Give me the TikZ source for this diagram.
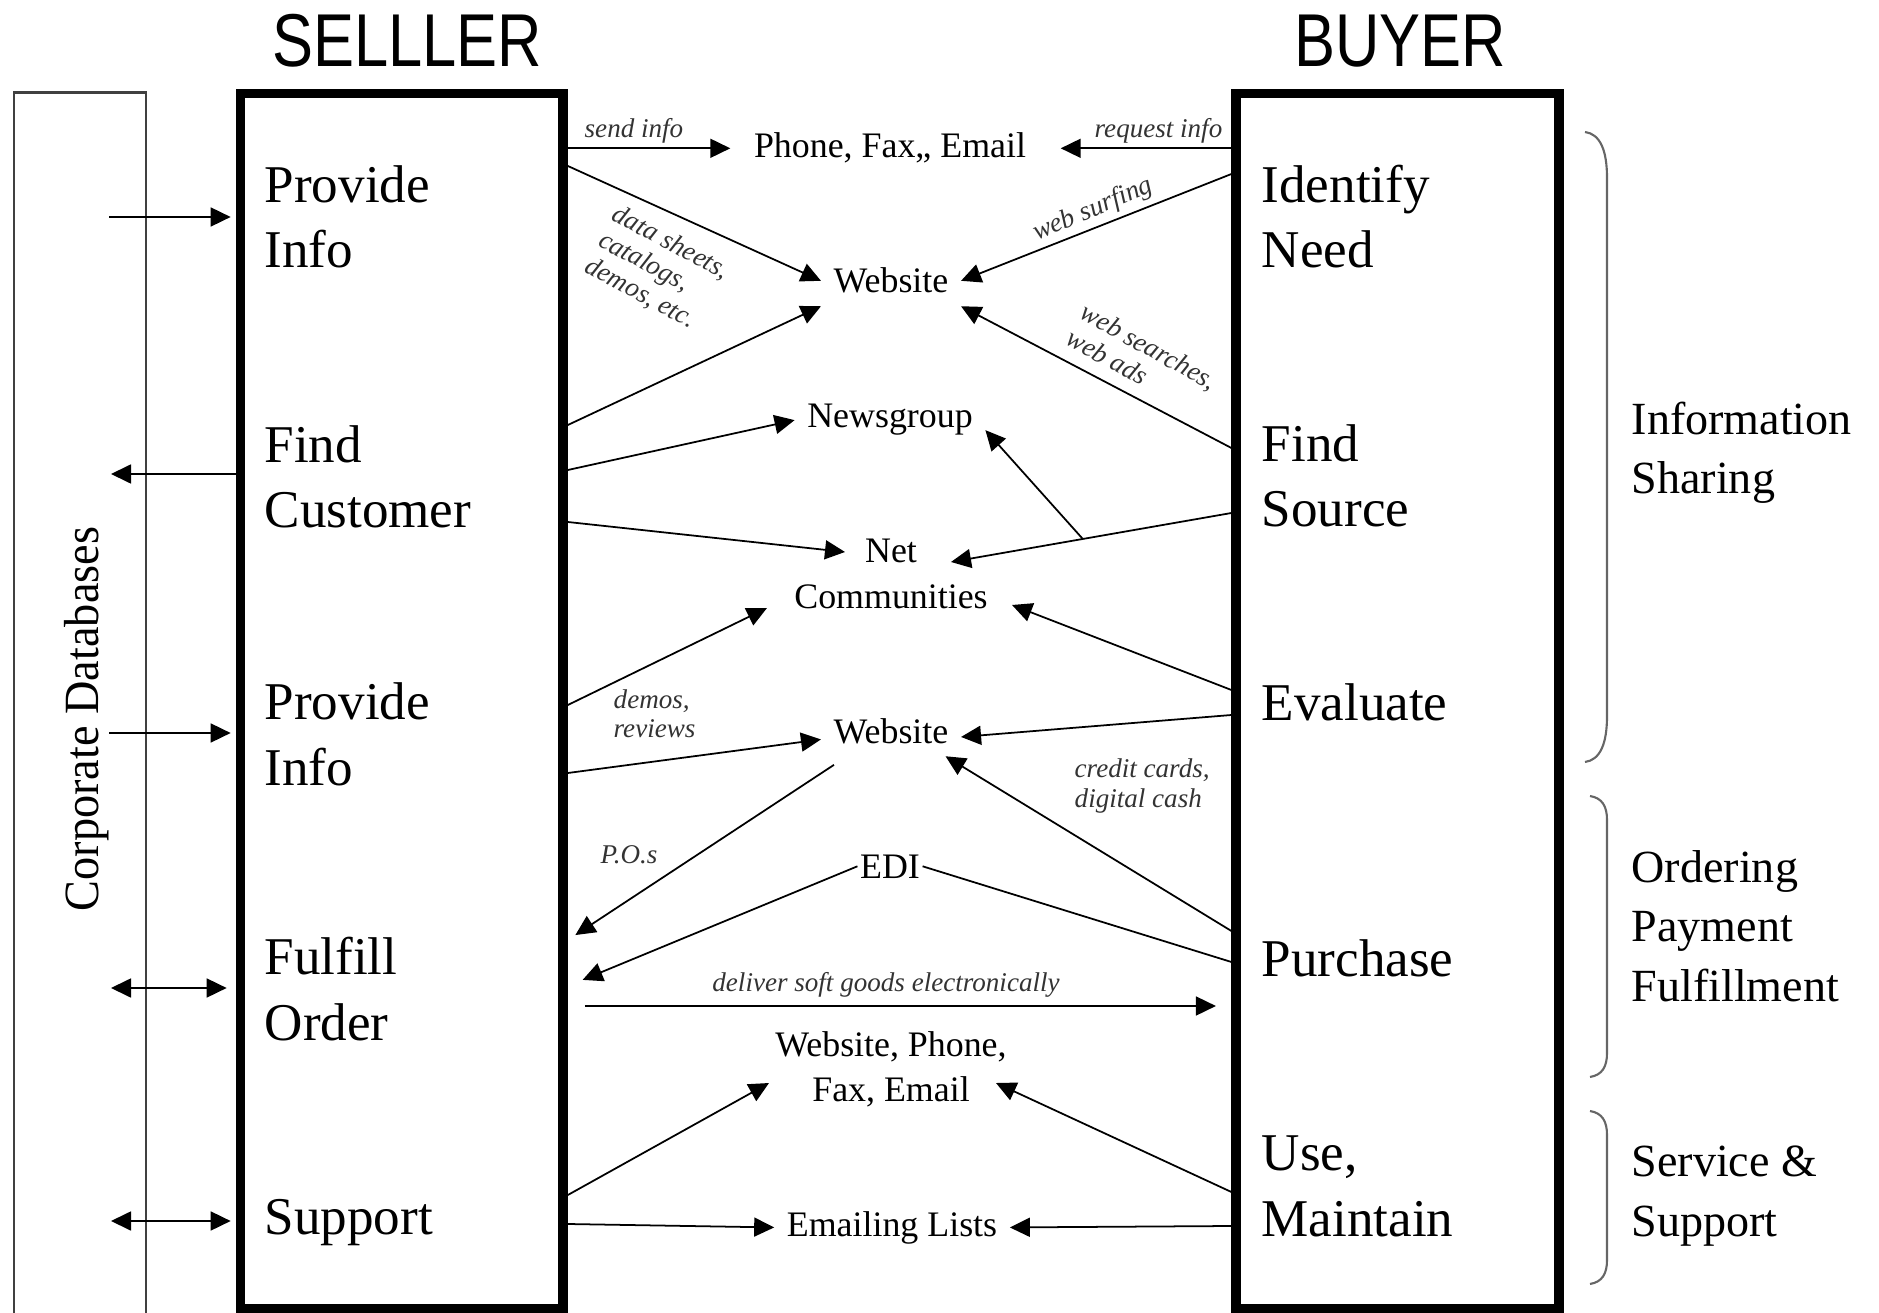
\documentclass[tikz,border=0pt]{standalone}
\usepackage{fontspec}
\setmainfont{Liberation Serif}
\newfontfamily\headfont{Liberation Sans}
\usetikzlibrary{arrows.meta}

\begin{document}
\begin{tikzpicture}[x=0.01cm,y=-0.01cm,
    link/.style={line width=0.5pt},
    flow/.style={link,-{Triangle[length=2mm,width=1.9mm]}},
    both/.style={link,{Triangle[length=2mm,width=1.9mm]}-{Triangle[length=2mm,width=1.9mm]}},
    lane/.style={draw,line width=2.7pt,minimum width=3.225cm,minimum height=12.145cm,inner sep=0pt},
    stage/.style={font=\fontsize{15.1}{18.5}\selectfont,align=left,inner sep=0pt,anchor=base west},
    media/.style={font=\fontsize{10.2}{12.9}\selectfont,align=center,inner sep=0.12cm},
    note/.style={font=\fontsize{7.7}{8.4}\selectfont\itshape,text=black!80,align=left,inner sep=0pt},
    phase/.style={font=\fontsize{13.1}{16.8}\selectfont,align=left,inner sep=0pt,anchor=base west},
    title/.style={font=\headfont\fontsize{21.3}{24}\selectfont,inner sep=0pt,anchor=base},
    brace/.style={draw=black!60,line width=0.6pt}]
    \useasboundingbox (0,0) rectangle (1879,1313);
    % the two lanes and the database column
    \node[lane] (seller) at (401.75,701.25) {};
    \node[lane] (buyer) at (1397.5,701) {};
    \node[draw=black!75,line width=0.7pt,minimum width=1.32cm,minimum height=12.3cm,inner sep=0pt] (db) at (80,708) {};
    \node[rotate=90,font=\fontsize{14}{16}\selectfont] (dbname) at (87,719) {\scalebox{0.94}[1]{Corporate Databases}};
    \node[title] (sellertitle) at (407,67) {\scalebox{0.82}[1]{SELLLER}};
    \node[title] (buyertitle) at (1400,67) {\scalebox{0.82}[1]{BUYER}};
    % seller steps (base = last line)
    \node[stage] (sPI1) at (264,268) {Provide\\Info};
    \node[stage] (sFC) at (264,528) {Find\\Customer};
    \node[stage] (sPI2) at (264,785) {Provide\\Info};
    \node[stage] (sFO) at (264,1040) {Fulfill\\Order};
    \node[stage] (sSU) at (264,1234) {Support};
    % buyer steps
    \node[stage] (bIN) at (1261,268) {Identify\\Need};
    \node[stage] (bFS) at (1261,527) {Find\\Source};
    \node[stage] (bEV) at (1261,720) {Evaluate};
    \node[stage] (bPU) at (1261,976) {Purchase};
    \node[stage] (bUM) at (1261,1236) {Use,\\Maintain};
    % phases
    \node[phase] (info) at (1631,494) {Information\\Sharing};
    \node[phase] (order) at (1631,1001) {Ordering\\Payment\\Fulfillment};
    \node[phase] (serv) at (1631,1236) {Service \&\\Support};
    \draw[brace] (1585,132) .. controls (1600,134) and (1607,150) .. (1607,178) -- (1607,716) .. controls (1607,744) and (1600,760) .. (1585,762);
    \draw[brace] (1590,796) .. controls (1602,798) and (1607,806) .. (1607,820) -- (1607,1053) .. controls (1607,1067) and (1602,1075) .. (1590,1077);
    \draw[brace] (1590,1111) .. controls (1602,1113) and (1607,1121) .. (1607,1135) -- (1607,1260) .. controls (1607,1274) and (1602,1282) .. (1590,1284);
    % media in the middle
    \node[media,anchor=base] (pfe) at (890,158) {Phone, Fax,, Email};
    \node[media,anchor=base] (web1) at (891,293) {Website};
    \node[media,anchor=base] (news) at (890,428) {Newsgroup};
    \node[media] (netc) at (891,574) {Net\\Communities};
    \node[media,anchor=base] (web2) at (891,743) {Website};
    \node[media,anchor=base,inner sep=0.02cm] (edi) at (890,878) {EDI};
    \node[media] (wpfe) at (891,1069) {Website, Phone,\\Fax, Email};
    \node[media,anchor=base] (mail) at (892,1236) {Emailing Lists};
    % small labels
    \node[note,anchor=base west] (sendinfo) at (584,138) {send info};
    \node[note,anchor=base east] (reqinfo) at (1223,138) {request info};
    \node[note,rotate=-28] (sheets) at (657,269) {data sheets,\\catalogs,\\demos, etc.};
    \node[note,rotate=23] (surf) at (1093,210) {web surfing};
    \node[note,rotate=-29] (search) at (1142,359) {web searches,\\web ads};
    \node[note,anchor=base west] (demos) at (613,738) {demos,\\reviews};
    \node[note,anchor=base west] (cash) at (1074,807) {credit cards,\\digital cash};
    \node[note,anchor=base west] (pos) at (600,863) {P.O.s};
    \node[note,anchor=base] (soft) at (886,991) {deliver soft goods electronically};
    % database links
    \coordinate (dbin1) at (109,217);
    \coordinate (dbout) at (111,474);
    \coordinate (dbin2) at (109,733);
    \coordinate (dbful) at (111,988);
    \coordinate (dbsup) at (111,1221);
    \draw[flow,shorten >=0.05cm] (dbin1) -- (seller.west |- dbin1);
    \draw[flow] (seller.west |- dbout) -- (dbout);
    \draw[flow,shorten >=0.05cm] (dbin2) -- (seller.west |- dbin2);
    \draw[both,shorten >=0.09cm] (dbful) -- (seller.west |- dbful);
    \draw[both,shorten >=0.05cm] (dbsup) -- (seller.west |- dbsup);
    % information sharing
    \draw[flow,shorten >=0.11cm] (seller.east |- pfe) -- (pfe.west);
    \draw[flow,shorten >=0.22cm] (buyer.west |- pfe) -- (pfe.east);
    \draw[flow] (seller.east |- 0,166) -- (web1.west);
    \draw[flow] (buyer.west |- 0,174) -- (web1.east);
    \draw[flow] (seller.east |- 0,425) -- (web1.south west);
    \draw[flow] (buyer.west |- 0,448) -- (web1.south east);
    \draw[flow] (seller.east |- 0,470) -- (news.west);
    \draw[flow] (seller.east |- 0,522) -- ([shift={(-46,-22)}]netc.center);
    \draw[flow] (buyer.west |- 0,513) -- ([shift={(60,-12)}]netc.center) coordinate[pos=0.53] (fork);
    \draw[flow] (fork) -- (news.-6);
    \draw[flow] (seller.east |- 0,705) -- ([shift={(-124,34)}]netc.center);
    \draw[flow] (buyer.west |- 0,690) -- ([shift={(121,31)}]netc.center);
    \draw[flow] (seller.east |- 0,773) -- (web2.187);
    \draw[flow] (buyer.west |- 0,715) -- (web2.-5);
    % ordering, payment, fulfillment
    \draw[flow] (buyer.west |- 0,931) -- (web2.-25);
    \draw[flow,shorten >=0.09cm] ([shift={(-57,34)}]web2.center) -- (seller.east |- 0,940);
    \draw[link] (buyer.west |- 0,962) -- (edi.east);
    \draw[flow,shorten >=0.16cm] (edi.west) -- (seller.east |- 0,986);
    \draw[flow,shorten <=0.17cm,shorten >=0.155cm] (seller.east |- 0,1006) -- (buyer.west |- 0,1006);
    % service and support
    \draw[flow] (seller.east |- 0,1195) -- ([shift={(-122,14)}]wpfe.center);
    \draw[flow] (buyer.west |- 0,1192) -- ([shift={(105,14)}]wpfe.center);
    \draw[flow] (seller.east |- 0,1224) -- (mail.west);
    \draw[flow] (buyer.west |- 0,1226) -- (mail.east);
\end{tikzpicture}
\end{document}
